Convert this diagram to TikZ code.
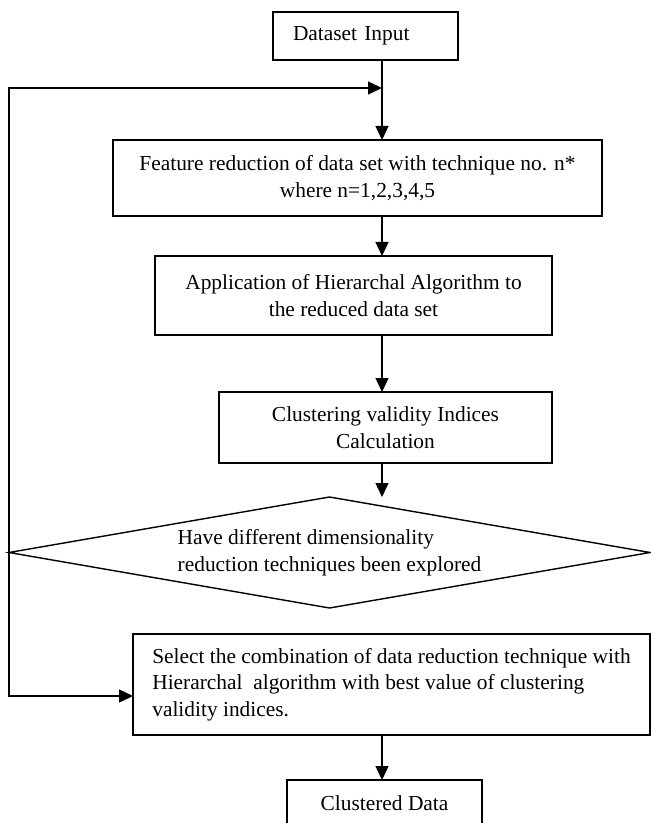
\documentclass[tikz,border=0pt]{standalone}
\usepackage{fontspec}
\setmainfont{Liberation Serif}
\usetikzlibrary{arrows.meta,positioning,shapes.geometric}
\tikzset{
    stage/.style={
        draw,
        line width=0.7pt,
        outer sep=0pt,
        align=center,
        font=\fontsize{10.7}{13.3}\selectfont
    },
    query/.style={
        draw,
        diamond,
        line width=0.7pt,
        aspect=5.77,
        inner sep=0pt,
        outer sep=0pt,
        minimum width=320.5pt,
        minimum height=55.5pt,
        align=left,
        font=\fontsize{10.7}{13.3}\selectfont
    },
    arrow/.style={
        -{Triangle[length=7pt,width=6.5pt]},
        line width=0.7pt
    }
}
\begin{document}
\begin{tikzpicture}[x=0.5pt, y=-0.5pt]
\path[use as bounding box, fill=white] (0,0) rectangle (651,823);

\coordinate (spine) at (382,0);
\coordinate (loopin) at (382,88);

\node[stage, text width=72.5pt, inner xsep=10pt, align=left, minimum height=24pt] (data) at (365.5,36) {Dataset Input};
\node[stage, minimum width=244.5pt, minimum height=38pt, below=40pt of data, xshift=-4pt] (feat)
    {Feature reduction of data set with technique no. n*\\where n=1,2,3,4,5};
\node[stage, minimum width=198.5pt, minimum height=39.5pt, below=20pt of feat, xshift=-2pt] (hier)
    {Application of Hierarchal Algorithm to\\the reduced data set};
\node[stage, minimum width=166.5pt, minimum height=35.5pt, below=28.5pt of hier, xshift=16pt] (valid)
    {Clustering validity Indices\\Calculation};
\node[query, below=17pt of valid, xshift=-28pt] (explored)
    {Have different dimensionality\\reduction techniques been explored};
\node[stage, align=left, minimum width=258.5pt, minimum height=50.5pt, below=13pt of explored, xshift=31pt] (best)
    {Select the combination of data reduction technique with\\Hierarchal\ \ algorithm with best value of clustering\\validity indices.};
\node[stage, minimum width=97.5pt, minimum height=23pt, below=22.5pt of best, xshift=-3.5pt] (out) {Clustered Data};

\draw[arrow] (data.south -| spine) -- (feat.north -| spine);
\draw[arrow] (feat.south -| spine) -- (hier.north -| spine);
\draw[arrow] (hier.south -| spine) -- (valid.north -| spine);
\draw[arrow] (valid.south -| spine) -- (explored.north -| spine);
\draw[arrow] (explored.west) |- (loopin);
\draw[arrow] (explored.west) |- ([yshift=-5.75pt]best.west);
\draw[arrow] (best.south -| spine) -- (out.north -| spine);

\end{tikzpicture}
\end{document}
